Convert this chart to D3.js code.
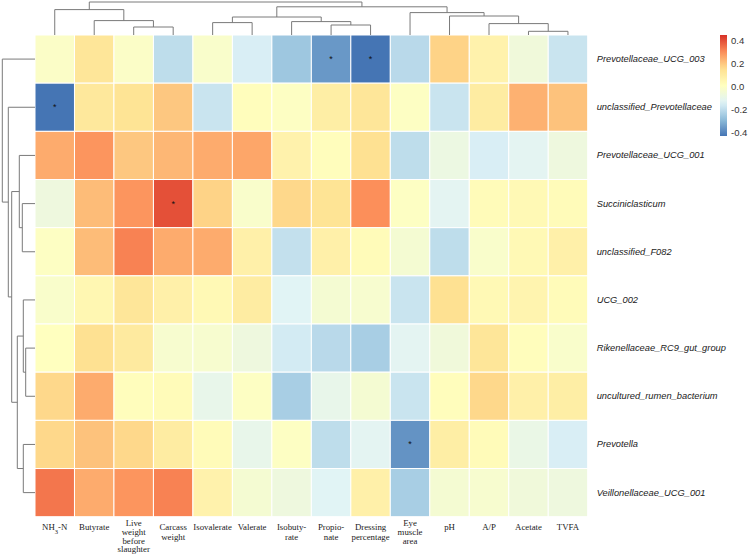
<!DOCTYPE html>
<html>
<head>
<meta charset="utf-8">
<title>Correlation heatmap</title>
<script src="https://d3js.org/d3.v7.min.js"></script>
<style>
  body { margin: 0; background: #fff; }
  svg { display: block; }
  .rowlab { font-family: "Liberation Sans", Arial, sans-serif; font-style: italic; font-size: 9.3px; fill: #222; }
  .collab { font-family: "Liberation Serif", "Times New Roman", serif; font-size: 8.8px; fill: #222; }
  .leglab { font-family: "Liberation Sans", Arial, sans-serif; font-size: 9.5px; fill: #333; }
</style>
</head>
<body>
<svg width="750" height="556"></svg>
<script>
// rows (genera) and columns (traits), in plotted order
const genera = ["Prevotellaceae_UCG_003", "unclassified_Prevotellaceae", "Prevotellaceae_UCG_001",
  "Succiniclasticum", "unclassified_F082", "UCG_002", "Rikenellaceae_RC9_gut_group",
  "uncultured_rumen_bacterium", "Prevotella", "Veillonellaceae_UCG_001"];

// column labels, one entry per line
const traits = [["NH3-N"], ["Butyrate"], ["Live", "weight", "before", "slaughter"], ["Carcass", "weight"],
  ["Isovalerate"], ["Valerate"], ["Isobuty-", "rate"], ["Propio-", "nate"], ["Dressing", "percentage"],
  ["Eye", "muscle", "area"], ["pH"], ["A/P"], ["Acetate"], ["TVFA"]];

// correlation values, one row per genus
const values = [
  [-0.01, 0.13, -0.01, -0.20, -0.02, -0.15, -0.26, -0.36, -0.43, -0.21, 0.18, 0.07, -0.06, -0.18],
  [-0.43, 0.12, 0.14, 0.20, -0.18, 0.02, 0.00, 0.09, 0.13, 0.00, -0.18, 0.10, 0.24, 0.21],
  [0.25, 0.29, 0.20, 0.23, 0.25, 0.26, 0.07, 0.02, 0.15, -0.20, -0.08, -0.15, -0.12, -0.07],
  [-0.07, 0.22, 0.29, 0.40, 0.18, -0.02, 0.17, 0.14, 0.30, 0.00, -0.12, 0.03, 0.04, 0.03],
  [0.00, 0.22, 0.32, 0.25, 0.25, 0.08, -0.19, 0.08, 0.03, -0.04, -0.20, -0.02, 0.04, 0.08],
  [-0.02, 0.05, 0.13, 0.08, 0.04, 0.10, -0.13, -0.04, -0.03, -0.18, 0.15, 0.04, 0.06, 0.03],
  [0.01, 0.15, 0.11, -0.03, -0.03, -0.07, -0.16, -0.21, -0.24, -0.12, -0.06, 0.13, 0.02, -0.02],
  [0.17, 0.25, 0.02, 0.03, -0.10, 0.00, -0.24, -0.10, -0.04, -0.18, 0.02, 0.17, 0.08, 0.09],
  [0.17, 0.21, 0.17, 0.10, 0.03, -0.10, 0.00, -0.20, -0.12, -0.37, 0.09, 0.03, -0.09, -0.15],
  [0.34, 0.25, 0.29, 0.32, 0.07, -0.04, -0.07, -0.13, 0.08, -0.24, -0.04, -0.03, -0.06, -0.07]
];

// significant cells [row, col]
const signif = [[0, 7], [0, 8], [1, 0], [3, 3], [8, 9]];

// dendrograms: [left, right, height], leaves are indexes
const colTree = [[0, [1, [2, 3, 8.0], 14.4], 25.4],
  [[[4, 5, 12.4], [6, [7, 8, 10.0], 13.4], 18.0],
   [9, [10, [11, [12, 13, 3.7], 11.4], 19.0], 22.4], 28.2], 33.0];
const rowTree = [0, [1, [[2, [3, 4, 12.7], 15.7],
  [[5, [6, 7, 9.3], 11.7], [8, 9, 11.7], 17.7], 23.3], 26.7], 32.7];

const legendTicks = [-0.4, -0.2, 0.0, 0.2, 0.4];
const valueRange = [-0.43, 0.45];
const palette = ["#4575B4", "#91BFDB", "#E0F3F8", "#FFFFBF", "#FEE090", "#FC8D59", "#D73027"];

const svg = d3.select("svg");

const mLeft = 35, mTop = 35, mRight = 587.7, mBottom = 516.7;

const x = d3.scaleBand().domain(d3.range(traits.length)).range([mLeft, mRight]);
const y = d3.scaleBand().domain(d3.range(genera.length)).range([mTop, mBottom]);

const color = d3.scaleLinear()
  .domain(palette.map((c, i) => valueRange[0] + i * (valueRange[1] - valueRange[0]) / (palette.length - 1)))
  .range(palette)
  .interpolate(d3.interpolateRgb);

// cells
const cells = [];
values.forEach((row, r) => row.forEach((v, c) => cells.push({ r, c, v })));

svg.append("g")
  .selectAll("rect")
  .data(cells)
  .join("rect")
    .attr("x", d => x(d.c))
    .attr("y", d => y(d.r))
    .attr("width", x.bandwidth())
    .attr("height", y.bandwidth())
    .attr("fill", d => color(d.v))
    .attr("stroke", "#fff")
    .attr("stroke-width", 1);

// stars
svg.append("g")
  .selectAll("text")
  .data(signif)
  .join("text")
    .attr("x", d => x(d[1]) + x.bandwidth() / 2)
    .attr("y", d => y(d[0]) + y.bandwidth() / 2)
    .attr("text-anchor", "middle")
    .attr("dominant-baseline", "central")
    .style("font-family", "Liberation Sans, Arial, sans-serif")
    .style("font-size", "9px")
    .attr("fill", "#111")
    .text("*");

// dendrograms
const hTop = d3.scaleLinear().domain([0, 33.0]).range([mTop, mTop - 33.0]);
const hLeft = d3.scaleLinear().domain([0, 32.7]).range([mLeft, mLeft - 32.7]);

function drawTree(g, node, pos, hs, horizontal) {
  // returns [position, height]
  if (typeof node === "number") {
    return [pos(node), 0];
  }
  const a = drawTree(g, node[0], pos, hs, horizontal);
  const b = drawTree(g, node[1], pos, hs, horizontal);
  const h = node[2];
  const pts = [[a[0], a[1]], [a[0], h], [b[0], h], [b[0], b[1]]];
  g.append("path")
    .attr("d", d3.line()(pts.map(p => horizontal ? [p[0], hs(p[1])] : [hs(p[1]), p[0]])))
    .attr("fill", "none")
    .attr("stroke", "#7a7a7a")
    .attr("stroke-width", 1);
  return [(a[0] + b[0]) / 2, h];
}

drawTree(svg.append("g"), colTree, i => x(i) + x.bandwidth() / 2, hTop, true);
drawTree(svg.append("g"), rowTree, i => y(i) + y.bandwidth() / 2, hLeft, false);

// row labels
svg.append("g")
  .selectAll("text")
  .data(genera)
  .join("text")
    .attr("class", "rowlab")
    .attr("x", mRight + 9)
    .attr("y", (d, i) => y(i) + y.bandwidth() / 2)
    .attr("dominant-baseline", "central")
    .text(d => d);

// column labels
const colG = svg.append("g")
  .selectAll("text")
  .data(traits)
  .join("text")
    .attr("class", "collab")
    .attr("text-anchor", "middle")
    .attr("x", (d, i) => x(i) + x.bandwidth() / 2)
    .attr("y", d => d.length > 2 ? 526 : 530);

colG.each(function (lines) {
  const t = d3.select(this);
  const step = lines.length > 2 ? 8.8 : 9.8;
  lines.forEach((ln, k) => {
    const ts = t.append("tspan")
      .attr("x", t.attr("x"))
      .attr("dy", k === 0 ? 0 : step);
    if (ln === "NH3-N") {
      ts.append("tspan").text("NH");
      ts.append("tspan").attr("baseline-shift", "sub").style("font-size", "6.5px").text("3");
      ts.append("tspan").text("-N");
    } else {
      ts.text(ln);
    }
  });
});

// colour legend
const legY = d3.scaleLinear().domain(valueRange).range([136, 35]);
const grad = svg.append("defs").append("linearGradient")
  .attr("id", "legGrad")
  .attr("x1", 0).attr("y1", 1).attr("x2", 0).attr("y2", 0);
grad.selectAll("stop")
  .data(d3.range(0, 1.0001, 0.05))
  .join("stop")
    .attr("offset", d => d)
    .attr("stop-color", d => color(valueRange[0] + d * (valueRange[1] - valueRange[0])));

svg.append("rect")
  .attr("x", 720)
  .attr("y", legY(valueRange[1]))
  .attr("width", 7)
  .attr("height", legY(valueRange[0]) - legY(valueRange[1]))
  .attr("fill", "url(#legGrad)");

svg.append("g")
  .selectAll("text")
  .data(legendTicks)
  .join("text")
    .attr("class", "leglab")
    .attr("x", 731)
    .attr("y", d => legY(d))
    .attr("dominant-baseline", "central")
    .text(d => d.toFixed(1));
</script>
</body>
</html>
